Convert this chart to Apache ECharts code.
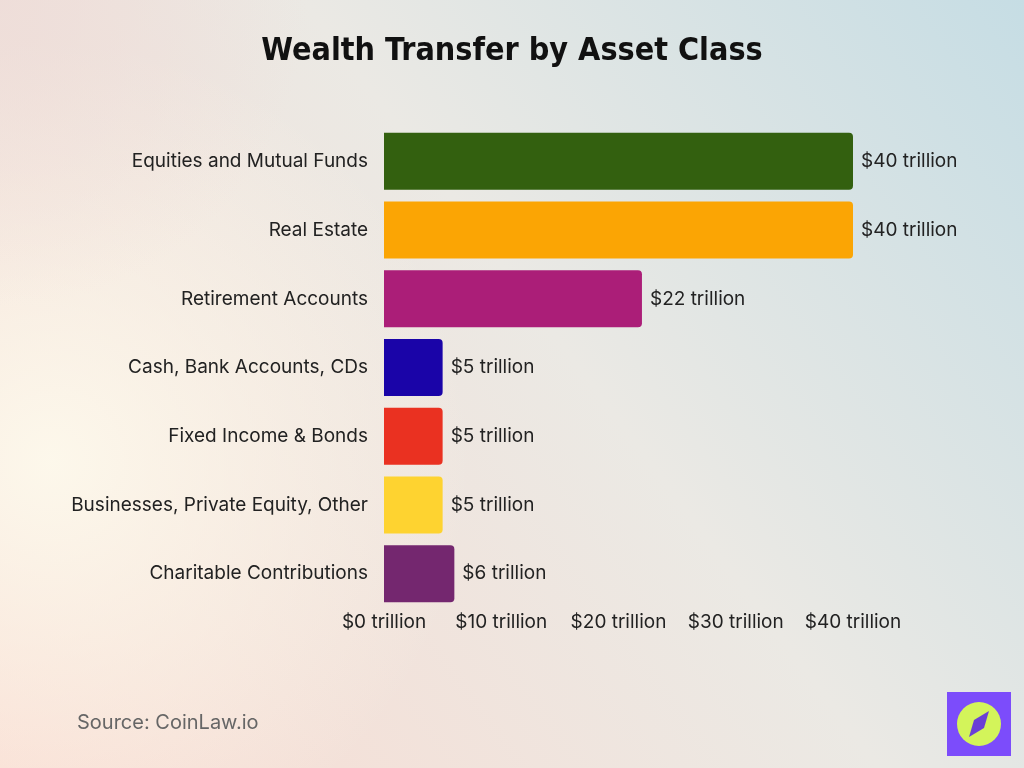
<!DOCTYPE html>
<html>
<head>
<meta charset="utf-8">
<script src="https://cdn.jsdelivr.net/npm/echarts@6/dist/echarts.min.js"></script>
<style>
html,body{margin:0;padding:0;width:1024px;height:768px;overflow:hidden;}
#chart{width:1024px;height:768px;}
</style>
</head>
<body>
<div id="chart"></div>
<script>
const categories = [
  "Equities and Mutual Funds",
  "Real Estate",
  "Retirement Accounts",
  "Cash, Bank Accounts, CDs",
  "Fixed Income & Bonds",
  "Businesses, Private Equity, Other",
  "Charitable Contributions"
];
const values = [40, 40, 22, 5, 5, 5, 6];
const barColors = ["#33600f", "#fba504", "#ab1e78", "#1a04a8", "#ea3121", "#fed330", "#74276f"];
const xTicks = [0, 10, 20, 30, 40];
const titleText = "Wealth Transfer by Asset Class";
const sourceText = "Source: CoinLaw.io";

const chart = echarts.init(document.getElementById('chart'), null, {renderer: 'canvas'});
const font = 'Inter, "DejaVu Sans", sans-serif';

const option = {
  animation: false,
  backgroundColor: 'transparent',
  graphic: [
    {
      type: 'rect', z: -10, silent: true,
      shape: {x: 0, y: 0, width: 1024, height: 768},
      style: {
        fill: new echarts.graphic.LinearGradient(1, 0, 0, 1, [
          {offset: 0, color: '#c6dde4'},
          {offset: 0.45, color: '#ebe9e4'},
          {offset: 1, color: '#f9dcd2'}
        ])
      }
    },
    {
      type: 'rect', z: -9, silent: true,
      shape: {x: 0, y: 0, width: 1024, height: 768},
      style: {
        fill: new echarts.graphic.RadialGradient(0.05, 0.6, 0.55, [
          {offset: 0, color: 'rgba(253,249,236,0.95)'},
          {offset: 1, color: 'rgba(253,249,236,0)'}
        ])
      }
    },
    {
      type: 'rect', z: -9, silent: true,
      shape: {x: 0, y: 0, width: 1024, height: 768},
      style: {
        fill: new echarts.graphic.RadialGradient(0.0, 0.0, 0.4, [
          {offset: 0, color: 'rgba(238,220,216,0.8)'},
          {offset: 1, color: 'rgba(238,220,216,0)'}
        ])
      }
    },
    {
      type: 'text', left: 'center', top: 36,
      style: {
        text: titleText,
        font: 'bold 32px "Liberation Sans Narrow", "DejaVu Sans Condensed", sans-serif',
        fill: '#111111'
      }
    },
    {
      type: 'text', left: 77, top: 713,
      style: {
        text: sourceText,
        font: '20px ' + font,
        fill: '#666666'
      }
    },
    {
      type: 'rect', silent: true,
      shape: {x: 947, y: 692, width: 64, height: 64},
      style: {fill: '#7c4cfb'}
    },
    {
      type: 'circle', silent: true,
      shape: {cx: 979, cy: 724, r: 22},
      style: {fill: '#d3f45a'}
    },
    {
      type: 'polygon', silent: true,
      shape: {points: [[989, 711], [984, 728], [969, 737], [974, 720]]},
      style: {fill: '#6a3fd6'}
    }
  ],
  grid: {left: 384, right: 171, top: 127, height: 481, containLabel: false},
  xAxis: {
    type: 'value',
    min: 0, max: 40, interval: 10,
    axisLine: {show: false},
    axisTick: {show: false},
    splitLine: {show: false},
    axisLabel: {
      margin: 5,
      color: '#222222',
      fontFamily: font,
      fontSize: 19,
      formatter: function (v) { return xTicks.indexOf(v) >= 0 ? '$' + v + ' trillion' : ''; }
    }
  },
  yAxis: {
    type: 'category',
    data: categories,
    inverse: true,
    axisLine: {show: false},
    axisTick: {show: false},
    axisLabel: {
      margin: 16,
      color: '#222222',
      fontFamily: font,
      fontSize: 19
    }
  },
  series: [{
    type: 'bar',
    data: values.map(function (v, i) {
      return {value: v, itemStyle: {color: barColors[i]}};
    }),
    barCategoryGap: '17%',
    itemStyle: {borderRadius: [0, 4, 4, 0]},
    label: {
      show: true,
      position: 'right',
      distance: 8,
      color: '#222222',
      fontFamily: font,
      fontSize: 19,
      formatter: function (p) { return '$' + p.value + ' trillion'; }
    }
  }]
};
chart.setOption(option);
</script>
</body>
</html>
